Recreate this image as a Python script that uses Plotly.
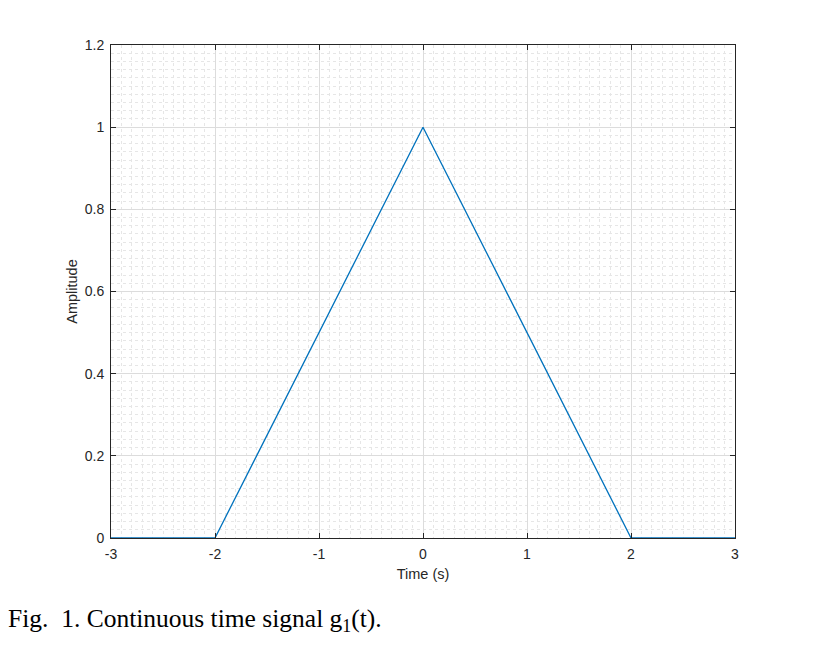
import plotly.graph_objects as go

t_values = [-3, -2, 0, 2, 3]
g_values = [0, 0, 1, 0, 0]
x_ticks = [-3, -2, -1, 0, 1, 2, 3]
y_ticks = [0, 0.2, 0.4, 0.6, 0.8, 1.0, 1.2]
y_tick_labels = ["0", "0.2", "0.4", "0.6", "0.8", "1", "1.2"]

fig = go.Figure()
fig.add_trace(go.Scatter(x=t_values, y=g_values, mode="lines",
                         line=dict(color="#0072BD", width=1.3), showlegend=False))

axis_common = dict(
    showline=True, linecolor="#262626", linewidth=1, mirror="ticks",
    ticks="inside", ticklen=5, tickcolor="#262626", tickwidth=1,
    showgrid=True, gridcolor="#dcdcdc", gridwidth=1, zeroline=False,
    tickfont=dict(family="Liberation Sans, Arial", size=14, color="#262626"),
)

fig.update_xaxes(range=[-3, 3], tickvals=x_ticks, ticktext=[str(v) for v in x_ticks],
                 ticklabelstandoff=3,
                 title=dict(text="Time (s)", font=dict(family="Liberation Sans, Arial", size=14.5, color="#262626"), standoff=8),
                 minor=dict(dtick=0.1, showgrid=True, gridcolor="#e6e6e6", griddash="dot", gridwidth=1, ticks=""),
                 **axis_common)
fig.update_yaxes(range=[0, 1.2], tickvals=y_ticks, ticktext=y_tick_labels,
                 ticklabelstandoff=3,
                 title=dict(text="Amplitude", font=dict(family="Liberation Sans, Arial", size=14.5, color="#262626"), standoff=3),
                 minor=dict(dtick=0.02, showgrid=True, gridcolor="#e6e6e6", griddash="dot", gridwidth=1, ticks=""),
                 **axis_common)

fig.add_annotation(text="Fig.  1. Continuous time signal g<sub>1</sub>(t).",
                   xref="paper", yref="paper", x=-0.168, y=-0.166,
                   xanchor="left", yanchor="middle", showarrow=False,
                   font=dict(family="Liberation Serif, Times New Roman", size=25.5, color="#000000"))

fig.update_layout(width=817, height=654, margin=dict(l=103, r=90, t=37, b=124),
                  paper_bgcolor="white", plot_bgcolor="white")

fig.write_html("out.html")
